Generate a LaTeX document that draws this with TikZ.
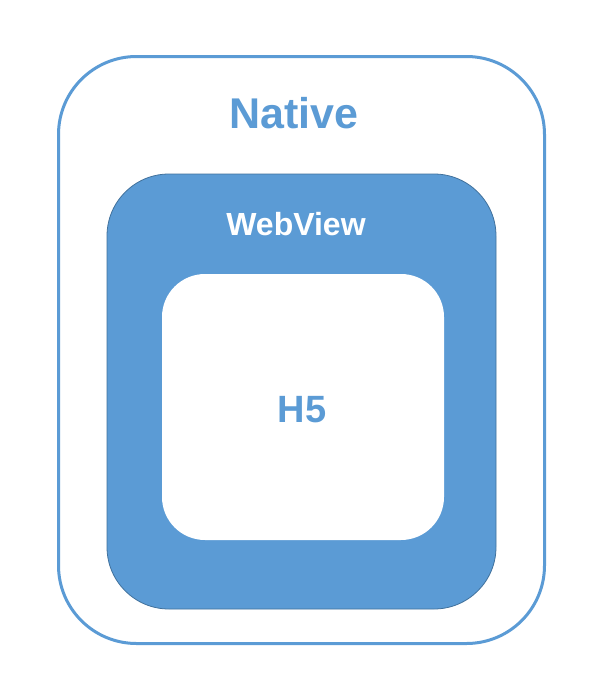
\documentclass[tikz,border=0pt]{standalone}
\usepackage{fontspec}
\setmainfont{Liberation Sans}
\usetikzlibrary{positioning}
\definecolor{boxblue}{HTML}{5B9BD5}
\definecolor{edgeblue}{HTML}{41719C}

\begin{document}
\begin{tikzpicture}[x=1pt, y=-1pt,
    layer/.style={draw, rectangle, inner sep=0pt, outer sep=0pt},
    label/.style={font=\bfseries, inner sep=0pt, anchor=base}]
        \useasboundingbox (0,0) rectangle (608,688);
        % Boxes
        \node (native) [layer, draw=boxblue, line width=3pt, fill=white, rounded corners=78pt,
            minimum width=486pt, minimum height=587pt] at (301.5,350) {};
        \node (webview) [layer, draw=edgeblue, line width=0.8pt, fill=boxblue, rounded corners=62pt,
            minimum width=389pt, minimum height=435pt] at (301.5,391.5) {};
        \node (h5) [layer, draw=none, fill=white, rounded corners=43pt,
            minimum width=282pt, minimum height=266pt] at (303,407) {};

        % Labels
        \node (nativetext) [label, text=boxblue, font=\fontsize{43}{43}\bfseries] at (294,128) {Native};
        \node (webviewtext) [label, text=white, font=\fontsize{32}{32}\bfseries] at (296,235) {WebView};
        \node (h5text) [label, text=boxblue, font=\fontsize{38}{38}\bfseries] at (302,422) {H5};
    \end{tikzpicture}
\end{document}
